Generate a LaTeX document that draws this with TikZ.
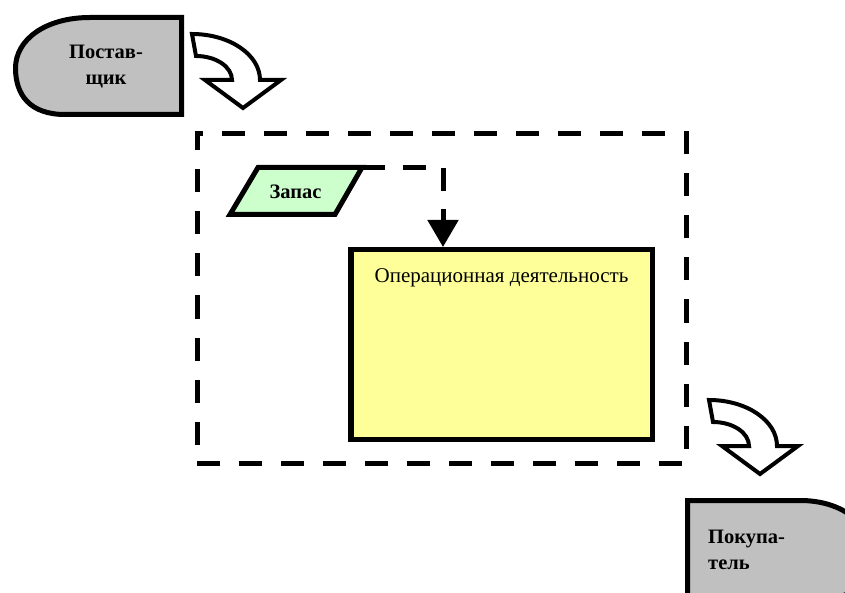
\documentclass[tikz,border=0pt]{standalone}
\usepackage{fontspec}
\setmainfont{Liberation Serif}
\usetikzlibrary{positioning,arrows.meta}
\definecolor{partyfill}{HTML}{C0C0C0}
\definecolor{stockfill}{HTML}{CCFFCC}
\definecolor{opfill}{HTML}{FFFF99}
\tikzset{
  party/.style={draw=black,fill=partyfill,line width=5pt,line join=miter},
  partytext/.style={font=\fontsize{20.5}{26}\selectfont\bfseries,inner sep=0pt},
  stock/.style={draw=black,fill=stockfill,line width=5pt,line join=miter},
  stocktext/.style={font=\fontsize{20.5}{24}\selectfont\bfseries,inner sep=0pt},
  opbox/.style={rectangle,draw=black,fill=opfill,line width=5.5pt,
    minimum width=301.5pt,minimum height=189.5pt},
  frame/.style={rectangle,draw=black,line width=5pt,dash pattern=on 23pt off 19pt,
    minimum width=489pt,minimum height=330pt},
  flowline/.style={draw=black,line width=5pt,dash pattern=on 23pt off 18pt,
    -{Triangle[length=27pt,width=30pt]}},
  bentarrow/.pic={
    \draw[line width=4pt,fill=white,line join=miter]
      (0,0) arc[start angle=-90,end angle=0,x radius=68,y radius=46]
      -- (89,46) -- (51,74) -- (13,46) -- (40,46)
      arc[start angle=0,end angle=-90,x radius=36,y radius=24]
      -- cycle;
  }
}
\begin{document}
\begin{tikzpicture}[x=1pt,y=-1pt]
    \clip (0,0) rectangle (845,593);
    % outside parties
    \draw[party] (181.5,17.5) -- (181.5,114.5) -- (65,114.5)
        .. controls (30,114.5) and (15.5,95) .. (15.5,68)
        .. controls (15.5,40) and (45,17.5) .. (90,17.5) -- cycle;
    \draw[party] (687.5,600) -- (687.5,500.5) -- (800,500.5)
        .. controls (842,500.5) and (869.5,523) .. (869.5,551)
        .. controls (869.5,578) and (855,600) .. (820,600) -- cycle;
    \node[partytext,align=center] (supplier) at (106,67) {Постав-\\щик};
    \node[partytext,align=left,anchor=west] (buyer) at (708,550) {Покупа-\\тель};
    % flows in and out
    \pic at (192,34) {bentarrow};
    \pic at (709,400) {bentarrow};
    % the firm
    \node[frame] (firm) at (441.5,298.5) {};
    \draw[stock] (258,167.5) coordinate (stocktop) -- (362,167.5) coordinate (stockcorner)
        -- (335,214.5) -- (230,214.5) -- cycle;
    \node[stocktext] (stock) at (295.5,192) {Запас};
    \node[opbox] (oper) at (501.5,344.5) {};
    \node[inner sep=0pt,font=\fontsize{21}{24}\selectfont,below=21pt of oper.north] (opertitle) {Операционная деятельность};
    \coordinate (drop) at ([xshift=95pt]oper.north west);
    \path[flowline] (stockcorner) -| (drop);
\end{tikzpicture}
\end{document}
